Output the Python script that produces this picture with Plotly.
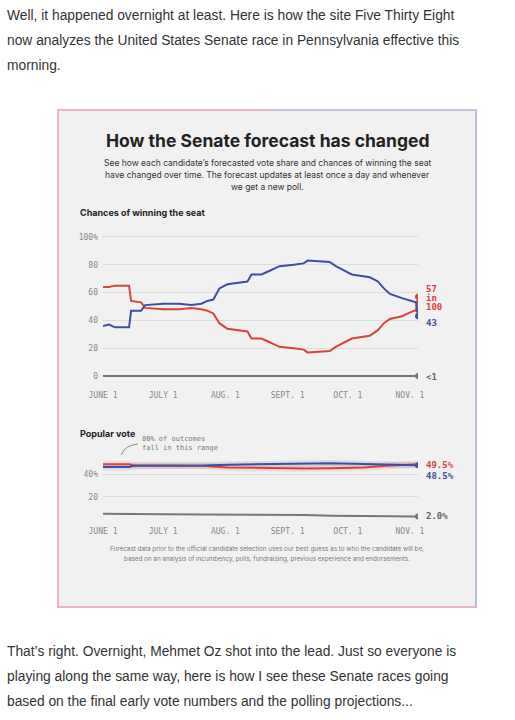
import plotly.graph_objects as go
from datetime import date, timedelta

W, H = 515, 720
def px(x): return x / W
def py(y): return 1 - y / H

start = date(2022, 6, 1)
# chances of winning (day offset from June 1)
win_days = [0, 3, 6, 13, 14, 19, 21, 30, 38, 44, 49, 52, 55, 58, 62, 72, 74, 79, 82, 88, 95, 100, 102, 113, 116, 120, 124, 133, 137, 140, 143, 149, 155, 156, 157]
dem_win  = [36, 37, 35, 35, 47, 47, 51, 52, 52, 51, 52, 54, 55, 63, 66, 68, 73, 73, 75, 79, 80, 81, 83, 82, 79, 76, 73, 71, 68, 63, 59, 56, 53, 53, 43]
rep_win  = [64, 64, 65, 65, 54, 53, 49, 48, 48, 49, 48, 47, 45, 38, 34, 32, 27, 27, 25, 21, 20, 19, 17, 18, 21, 24, 27, 29, 33, 38, 41, 43, 47, 47, 57]
oth_win  = [0] * len(win_days)

# popular vote
pv_days = [0, 13, 15, 30, 50, 62, 80, 100, 114, 130, 141, 150, 157]
dem_pv  = [47.0, 47.0, 48.0, 48.0, 48.3, 49.0, 49.5, 50.5, 50.3, 49.6, 49.0, 48.6, 48.5]
rep_pv  = [49.5, 49.5, 48.5, 48.0, 48.0, 46.5, 46.0, 45.6, 45.8, 46.5, 48.0, 48.6, 49.5]
oth_pv  = [4.5, 4.6, 4.4, 4.2, 4.0, 4.0, 3.8, 3.5, 2.8, 2.5, 2.3, 2.1, 2.0]
band    = 3.0

month_ticks = ["2022-06-01", "2022-07-01", "2022-08-01", "2022-09-01", "2022-10-01", "2022-11-01"]
month_labels = ["JUNE 1", "JULY 1", "AUG. 1", "SEPT. 1", "OCT. 1", "NOV. 1"]

RED, BLUE, GRAY = "#d8433b", "#3f4fa0", "#777777"
wd = [start + timedelta(days=d) for d in win_days]
pd_ = [start + timedelta(days=d) for d in pv_days]

fig = go.Figure()
for y, c in [(oth_win, GRAY), (rep_win, RED), (dem_win, BLUE)]:
    fig.add_trace(go.Scatter(x=wd, y=y, mode="lines", line=dict(color=c, width=2),
                             xaxis="x", yaxis="y", hoverinfo="skip"))
fig.add_trace(go.Scatter(x=[wd[-1]] * 3, y=[rep_win[-1], dem_win[-1], oth_win[-1]], mode="markers",
                         marker=dict(color=[RED, BLUE, GRAY], size=6), xaxis="x", yaxis="y", hoverinfo="skip"))

for y, c, f in [(rep_pv, RED, "rgba(216,67,59,0.13)"), (dem_pv, BLUE, "rgba(63,79,160,0.13)")]:
    fig.add_trace(go.Scatter(x=pd_, y=[v + band for v in y], mode="lines", line=dict(width=0),
                             xaxis="x2", yaxis="y2", hoverinfo="skip"))
    fig.add_trace(go.Scatter(x=pd_, y=[v - band for v in y], mode="lines", line=dict(width=0),
                             fill="tonexty", fillcolor=f, xaxis="x2", yaxis="y2", hoverinfo="skip"))
for y, c in [(oth_pv, GRAY), (rep_pv, RED), (dem_pv, BLUE)]:
    fig.add_trace(go.Scatter(x=pd_, y=y, mode="lines", line=dict(color=c, width=2),
                             xaxis="x2", yaxis="y2", hoverinfo="skip"))
fig.add_trace(go.Scatter(x=[pd_[-1]] * 2, y=[dem_pv[-1], oth_pv[-1]], mode="markers",
                         marker=dict(color=[BLUE, GRAY], size=6), xaxis="x2", yaxis="y2", hoverinfo="skip"))

xr = [start - timedelta(days=0.5), start + timedelta(days=157.5)]
tickf = dict(family="DejaVu Sans Mono", size=8, color="#888")
xcommon = dict(range=xr, tickvals=month_ticks, ticktext=month_labels, showgrid=False, automargin=False,
               zeroline=False, showline=False, tickfont=tickf, ticks="", fixedrange=True, tickangle=0)
fig.update_layout(
    template="none",
    width=W, height=H, margin=dict(l=0, r=0, t=0, b=0, pad=0), showlegend=False,
    paper_bgcolor="white", plot_bgcolor="rgba(0,0,0,0)",
    xaxis=dict(domain=[px(103), px(418)], anchor="y", ticklabelstandoff=7, **xcommon),
    yaxis=dict(domain=[py(381.6), py(231.4)], range=[-4, 104], tickvals=[0, 20, 40, 60, 80, 100],
               ticktext=["0", "20", "40", "60", "80", "100%"], gridcolor="#dcdcdc", zeroline=False,
               tickfont=tickf, ticklabelstandoff=4, fixedrange=True, automargin=False, ticks=""),
    xaxis2=dict(domain=[px(103), px(418)], anchor="y2", ticklabelstandoff=4, **xcommon),
    yaxis2=dict(domain=[py(521), py(457)], range=[-2, 56], tickvals=[20, 40],
                ticktext=["20", "40%"], gridcolor="#dcdcdc", zeroline=False,
                tickfont=tickf, ticklabelstandoff=4, fixedrange=True, automargin=False, ticks=""),
)

shapes = [
    dict(type="rect", xref="paper", yref="paper", x0=px(58), x1=px(476), y0=py(607), y1=py(110),
         fillcolor="#f1f1f1", line=dict(color="#e9b7bb", width=2), layer="below"),
    dict(type="line", xref="paper", yref="paper", x0=px(476), x1=px(476), y0=py(607), y1=py(110),
         line=dict(color="#b7bde0", width=2)),
    dict(type="line", xref="paper", yref="paper", x0=px(267), x1=px(476), y0=py(110), y1=py(110),
         line=dict(color="#c8c0dc", width=2)),
    dict(type="path", xref="paper", yref="paper",
         path=f"M {px(138)},{py(444)} Q {px(125)},{py(445)} {px(121)},{py(455)}",
         line=dict(color="#888", width=1)),
]
fig.update_layout(shapes=shapes)

ann = []
def T(x, y, text, size, color="#333", family="Liberation Sans", xa="left", bold=False):
    if bold: text = "<b>" + text + "</b>"
    ann.append(dict(x=px(x), y=py(y), xref="paper", yref="paper", text=text, showarrow=False,
                    xanchor=xa, yanchor="middle", align=xa, font=dict(size=size, color=color, family=family)))

body = "#333333"
for i, l in enumerate(["Well, it happened overnight at least. Here is how the site Five Thirty Eight",
                       "now analyzes the United States Senate race in Pennsylvania effective this",
                       "morning."]):
    T(5, 15 + i * 25, l, 13.8, body)
for i, l in enumerate(["That\u2019s right. Overnight, Mehmet Oz shot into the lead. Just so everyone is",
                       "playing along the same way, here is how I see these Senate races going",
                       "based on the final early vote numbers and the polling projections..."]):
    T(5, 651 + i * 25, l, 13.8, body)

T(267, 141, "How the Senate forecast has changed", 17.5, "#222", "Inter", "center", True)
for i, l in enumerate(["See how each candidate\u2019s forecasted vote share and chances of winning the seat",
                       "have changed over time. The forecast updates at least once a day and whenever",
                       "we get a new poll."]):
    T(267, 163 + i * 12, l, 8.5, "#333", "Inter", "center")
T(78, 212, "Chances of winning the seat", 9, "#222", "Inter", bold=True)
T(78, 433, "Popular vote", 9, "#222", "Inter", bold=True)
mono = "DejaVu Sans Mono"
T(140, 439, "80% of outcomes", 7, "#777", mono)
T(140, 448, "fall in this range", 7, "#777", mono)
T(424, 289, "<b>57</b>", 9, RED, mono); T(424, 298, "<b>in</b>", 9, RED, mono); T(424, 307, "<b>100</b>", 9, RED, mono)
T(424, 323, "<b>43</b>", 9, BLUE, mono)
T(424, 377, "<b><1</b>", 9, "#666", mono)
T(424, 465, "<b>49.5%</b>", 9, RED, mono)
T(424, 476, "<b>48.5%</b>", 9, BLUE, mono)
T(424, 516, "<b>2.0%</b>", 9, "#666", mono)
T(267, 549, "Forecast data prior to the official candidate selection uses our best guess as to who the candidate will be,", 6.3, "#777", "Inter", "center")
T(267, 559, "based on an analysis of incumbency, polls, fundraising, previous experience and endorsements.", 6.3, "#777", "Inter", "center")
fig.update_layout(annotations=ann)

fig.write_html("out.html", config={"displayModeBar": False, "staticPlot": True},
               post_script="document.body.style.margin='0';document.body.style.overflow='hidden';")
